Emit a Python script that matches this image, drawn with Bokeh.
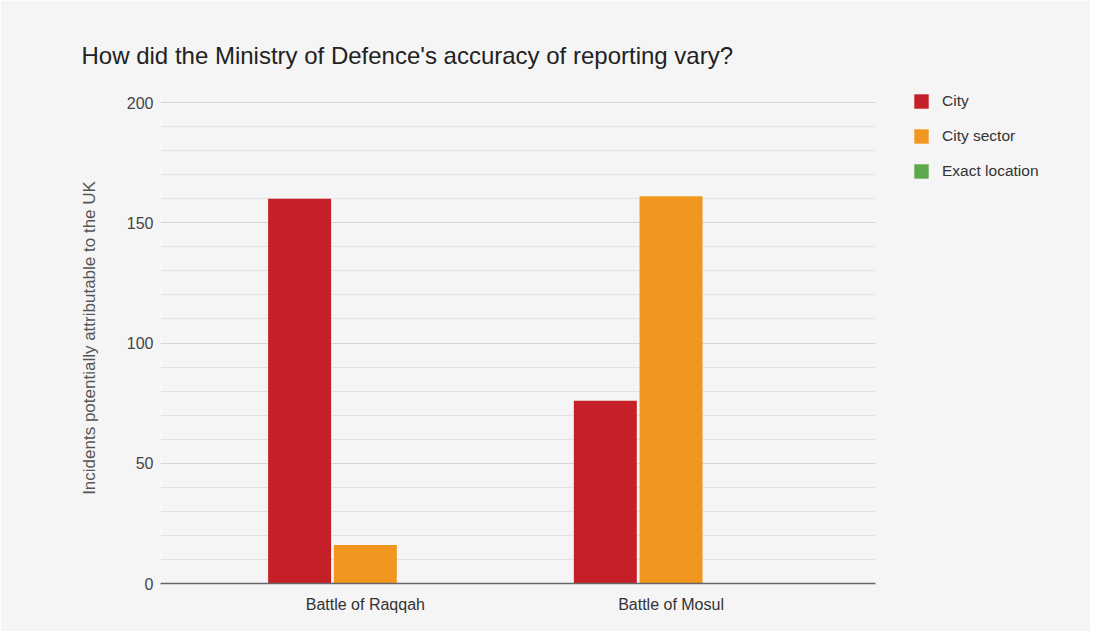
from bokeh.plotting import figure
from bokeh.models import (ColumnDataSource, Range1d, SingleIntervalTicker, Legend,
                          LegendItem, FixedTicker)
from bokeh.transform import dodge
from bokeh.embed import file_html
from bokeh.resources import INLINE

battles = ["Battle of Raqqah", "Battle of Mosul"]
series = ["City", "City sector", "Exact location"]
city = [160, 76]
city_sector = [16, 161]
exact_location = [0, 0]
colors = ["#c51f27", "#f1961f", "#5ea84c"]
y_max = 200

pos = list(range(len(battles)))
src = ColumnDataSource(dict(pos=pos, city=city, sector=city_sector, exact=exact_location))

FONT = "Liberation Sans"
x_lo, x_hi = -0.67, len(battles) - 1 + 0.67
p = figure(x_range=Range1d(x_lo, x_hi + 0.702), y_range=Range1d(0, y_max + 4.16),
           width=1090, height=631, output_backend="svg", toolbar_location=None,
           background_fill_color="#f5f5f5", border_fill_color="#f5f5f5", outline_line_color=None,
           min_border_left=160, min_border_right=0, min_border_top=92, min_border_bottom=48)

w = 0.206
off = 0.215
r1 = p.vbar(x=dodge("pos", -off), top="city", width=w, source=src,
            fill_color=colors[0], line_color=None)
r2 = p.vbar(x=dodge("pos", 0), top="sector", width=w, source=src,
            fill_color=colors[1], line_color=None)
r3 = p.vbar(x=dodge("pos", off), top="exact", width=w, source=src,
            fill_color=colors[2], line_color=None)

p.title.text = "How did the Ministry of Defence's accuracy of reporting vary?"
p.title.text_font = FONT
p.title.text_font_size = "24px"
p.title.text_font_style = "normal"
p.title.text_color = "#222222"
p.title.align = "left"
p.title.offset = -79
p.title.standoff = 48

p.yaxis.ticker = SingleIntervalTicker(interval=50, num_minor_ticks=5)
p.yaxis.bounds = (0, y_max)
p.yaxis.axis_line_color = None
p.yaxis.major_tick_line_color = None
p.yaxis.minor_tick_line_color = None
p.yaxis.major_label_text_font = FONT
p.yaxis.major_label_text_font_size = "16px"
p.yaxis.major_label_text_color = "#444444"
p.yaxis.major_label_standoff = 1
p.yaxis.axis_label = "Incidents potentially attributable to the UK"
p.yaxis.axis_label_text_font = FONT
p.yaxis.axis_label_text_font_size = "17px"
p.yaxis.axis_label_text_font_style = "normal"
p.yaxis.axis_label_text_color = "#555555"
p.yaxis.axis_label_standoff = 25

p.ygrid.grid_line_color = "#d6d6d6"
p.ygrid.minor_grid_line_color = "#e3e3e3"
p.ygrid.bounds = (0, y_max)
p.ygrid.cross_bounds = (x_lo, x_hi)
p.xgrid.grid_line_color = None

p.xaxis.ticker = FixedTicker(ticks=pos)
p.xaxis.major_label_overrides = {i: b for i, b in zip(pos, battles)}
p.xaxis.bounds = (x_lo, x_hi)
p.xaxis.axis_line_color = "#666666"
p.xaxis.axis_line_width = 1.5
p.xaxis.major_tick_line_color = None
p.xaxis.minor_tick_line_color = None
p.xaxis.major_label_text_font = FONT
p.xaxis.major_label_text_font_size = "16px"
p.xaxis.major_label_text_color = "#333333"
p.xaxis.major_label_standoff = 6

legend = Legend(items=[LegendItem(label=series[0], renderers=[r1]),
                       LegendItem(label=series[1], renderers=[r2]),
                       LegendItem(label=series[2], renderers=[r3])],
                location=(752, 403), orientation="vertical",
                glyph_width=18, glyph_height=18, spacing=17, label_standoff=12,
                padding=0, margin=0, border_line_color=None, background_fill_alpha=0,
                label_text_font=FONT, label_text_font_size="15.5px", label_text_color="#333333")
p.add_layout(legend, "center")

open("out.html", "w").write(file_html(p, INLINE))
